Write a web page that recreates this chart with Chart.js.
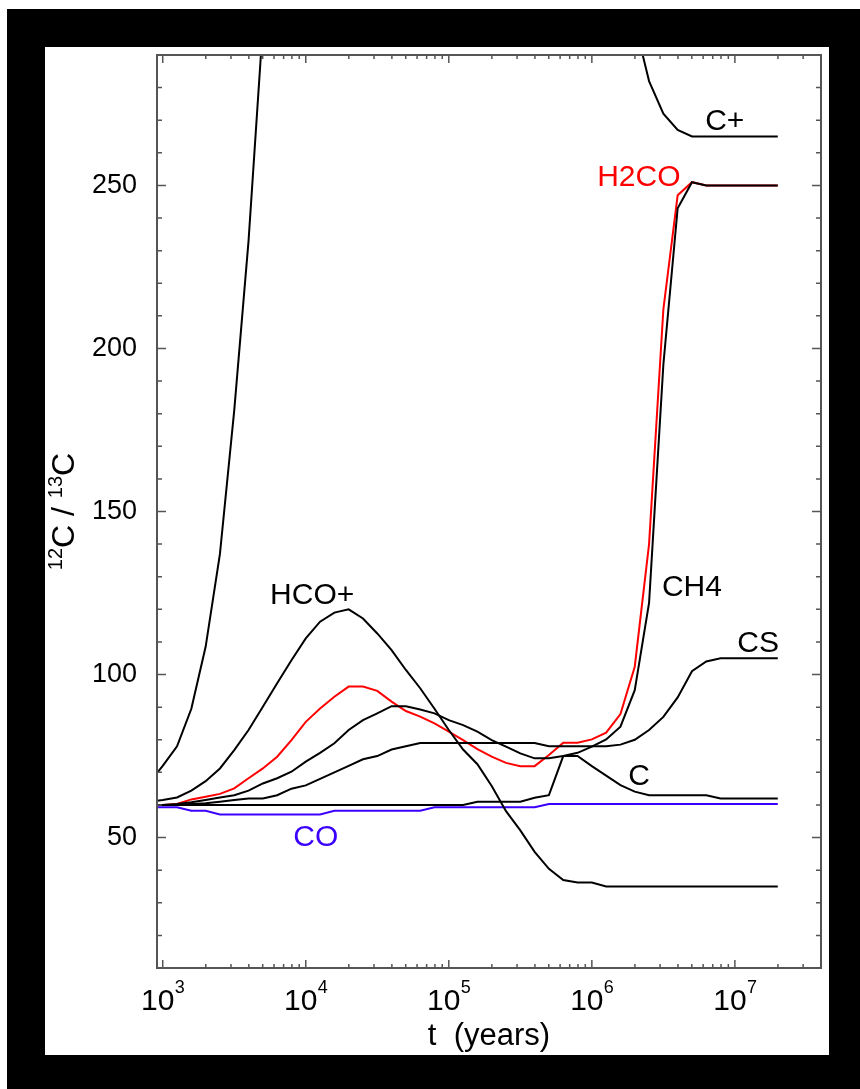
<!DOCTYPE html>
<html>
<head>
<meta charset="utf-8">
<script src="https://cdn.jsdelivr.net/npm/chart.js@4.4.0/dist/chart.umd.min.js"></script>
<style>
  html, body { margin: 0; padding: 0; background: #fff; }
  canvas { display: block; }
</style>
</head>
<body>
<canvas id="ratioChart" width="860" height="1089"></canvas>
<script>
// time grid (years), 0.1 dex steps
const years = [794, 1000, 1259, 1585, 1995, 2512, 3162, 3981, 5012, 6310, 7943,
  1.0e4, 1.259e4, 1.585e4, 1.995e4, 2.512e4, 3.162e4, 3.981e4, 5.012e4, 6.310e4, 7.943e4,
  1.0e5, 1.259e5, 1.585e5, 1.995e5, 2.512e5, 3.162e5, 3.981e5, 5.012e5, 6.310e5, 7.943e5,
  1.0e6, 1.259e6, 1.585e6, 1.995e6, 2.512e6, 3.162e6, 3.981e6, 5.012e6, 6.310e6, 7.943e6,
  1.0e7, 1.259e7, 1.585e7, 1.995e7];

// 12C/13C ratio per species (null = above the plot)
const cPlus = [66.5, 72, 78, 89.5, 108.5, 137, 181, 233, 299,
  null, null, null, null, null, null, null, null, null, null, null, null, null,
  null, null, null, null, null, null, null, null, null, null, null, null,
  300, 282, 272, 267, 265, 265, 265, 265, 265, 265, 265];
const hcoPlus = [61, 61.5, 62.3, 64.4, 67.3, 71.2, 76.8, 83, 90.1, 97.3,
  104.4, 111.1, 116.2, 119, 120, 117.2, 112.6, 107.5, 101.4, 95.8,
  89.5, 83, 77, 72.5, 65.8, 58.1, 52.2, 45.6, 40.4, 37,
  36.2, 36.2, 35, 35, 35, 35, 35, 35, 35, 35, 35, 35, 35, 35, 35];
const ch4 = [60, 60, 60.3, 60.8, 61.5, 62.3, 63, 64.4, 66.6, 68.2,
  70.2, 73.3, 76, 78.9, 83, 86, 88.1, 90.3, 90.3, 89.3,
  88.1, 86, 84.5, 82.5, 79.9, 77.9, 75.8, 74.3, 74.3, 75,
  76, 77.9, 80.1, 84, 95.2, 122, 195, 243, 251, 250, 250, 250, 250, 250, 250];
const cs = [60, 60, 60, 60.3, 60.5, 61, 61.5, 62, 62, 63,
  65, 66, 68, 70, 72, 74, 75, 77, 78, 79,
  79, 79, 79, 79, 79, 79, 79, 79, 78, 78,
  78, 78, 78, 78.5, 80, 83, 87, 93, 101, 104, 105, 105, 105, 105, 105];
const cAtom = [60, 60, 60, 60, 60, 60, 60, 60, 60, 60,
  60, 60, 60, 60, 60, 60, 60, 60, 60, 60,
  60, 60, 60, 61, 61, 61, 61, 62.2, 63, 75,
  75, 71.9, 69, 66.1, 64.1, 63, 63, 63, 63, 63, 62, 62, 62, 62, 62];
const h2co = [60, 60, 60.3, 61.7, 62.5, 63.4, 65.1, 68.2, 71.2, 74.8,
  79.9, 85.5, 89.6, 93.2, 96.3, 96.3, 95, 91.7, 88.8, 87.1,
  85, 82.5, 79.9, 77.1, 74.8, 72.9, 71.9, 71.9, 75.3, 79.1,
  79.1, 80.1, 82.2, 87.9, 102.4, 140, 212, 247, 251, 250, 250, 250, 250, 250, 250];
const co = [59.3, 59.3, 59.3, 58.2, 58.2, 57.1, 57.1, 57.1, 57.1, 57.1,
  57.1, 57.1, 57.1, 58.2, 58.2, 58.2, 58.2, 58.2, 58.2, 58.2,
  59.3, 59.3, 59.3, 59.3, 59.3, 59.3, 59.3, 59.3, 60.3, 60.3,
  60.3, 60.3, 60.3, 60.3, 60.3, 60.3, 60.3, 60.3, 60.3, 60.3, 60.3, 60.3, 60.3, 60.3, 60.3];

// axis ticks: x labels are 10 with a raised exponent
const xTickValues = [1e3, 1e4, 1e5, 1e6, 1e7];
const xTickExponents = ['3', '4', '5', '6', '7'];
const yTickValues = [50, 100, 150, 200, 250];
const yTickLabels = ['50', '100', '150', '200', '250'];

const RED = '#ff0000';
const BLUE = '#3c00ff';
const FONT = '"Liberation Sans", Arial, sans-serif';

// curve names placed next to the lines (data coordinates)
const curveLabels = [
  { text: 'C+', t: 6.2e6, v: 267, color: '#000' },
  { text: 'H2CO', t: 1.09e6, v: 249.8, color: RED },
  { text: 'CH4', t: 3.09e6, v: 124, color: '#000' },
  { text: 'CS', t: 1.04e7, v: 107, color: '#000' },
  { text: 'C', t: 1.8e6, v: 66.1, color: '#000' },
  { text: 'HCO+', t: 5.63e3, v: 121.6, color: '#000' },
  { text: 'CO', t: 8.18e3, v: 47.4, color: BLUE }
];

const toPoints = vals => years.map((t, i) => ({ x: t, y: vals[i] }));

// black frame, white panel, box with inward ticks, exponents, y title and curve names
const frame = {
  id: 'frame',
  beforeDraw(chart) {
    const c = chart.ctx;
    c.save();
    c.fillStyle = '#fff';
    c.fillRect(0, 0, chart.width, chart.height);
    c.fillStyle = '#000';
    c.fillRect(7, 9, chart.width - 7, chart.height - 9);
    c.fillStyle = '#fff';
    c.fillRect(45, 47, 784, 1008);
    c.restore();
  },
  afterDraw(chart) {
    const { ctx: c, chartArea: a, scales: { x, y } } = chart;
    c.save();
    c.strokeStyle = '#555';
    c.lineWidth = 2;
    c.strokeRect(a.left, a.top, a.right - a.left, a.bottom - a.top);
    c.lineWidth = 1.5;
    c.beginPath();
    for (let e = 2; e <= 7; e++) {
      for (let k = 1; k < 10; k++) {
        const v = k * Math.pow(10, e);
        if (v <= x.min || v >= x.max) continue;
        const px = x.getPixelForValue(v);
        const len = k === 1 ? 8 : 4;
        c.moveTo(px, a.bottom); c.lineTo(px, a.bottom - len);
        c.moveTo(px, a.top); c.lineTo(px, a.top + len);
      }
    }
    for (let v = 20; v < 290; v += 10) {
      const py = y.getPixelForValue(v);
      const len = v % 50 === 0 ? 9 : 5;
      c.moveTo(a.left, py); c.lineTo(a.left + len, py);
      c.moveTo(a.right, py); c.lineTo(a.right - len, py);
    }
    c.stroke();

    // exponents of the x tick labels
    c.fillStyle = '#000';
    c.font = '18px ' + FONT;
    c.textAlign = 'left';
    c.textBaseline = 'alphabetic';
    xTickValues.forEach((v, i) => {
      c.fillText(xTickExponents[i], x.getPixelForValue(v) + 12, 993);
    });

    // y axis title: 12C / 13C with superscripts, rotated
    c.save();
    c.translate(63, (a.top + a.bottom) / 2);
    c.rotate(-Math.PI / 2);
    const parts = [['12', true], ['C', false], [' / ', false], ['13', true], ['C', false]];
    const sup = '20px ' + FONT, big = '32px ' + FONT;
    let w = 0;
    parts.forEach(p => { c.font = p[1] ? sup : big; w += c.measureText(p[0]).width; });
    let u = -w / 2;
    parts.forEach(p => {
      c.font = p[1] ? sup : big;
      c.fillText(p[0], u, p[1] ? 11 - 12 : 11);
      u += c.measureText(p[0]).width;
    });
    c.restore();

    c.font = '30px ' + FONT;
    curveLabels.forEach(l => {
      c.fillStyle = l.color;
      c.fillText(l.text, x.getPixelForValue(l.t), y.getPixelForValue(l.v));
    });
    c.restore();
  }
};

const ctx = document.getElementById('ratioChart').getContext('2d');
Chart.defaults.font.family = FONT;

const line = (label, vals, color) => ({
  label, data: toPoints(vals), borderColor: color, backgroundColor: color,
  borderWidth: 2, pointRadius: 0, tension: 0, fill: false
});

new Chart(ctx, {
  type: 'line',
  data: {
    datasets: [
      line('C+', cPlus, '#000'),
      line('HCO+', hcoPlus, '#000'),
      line('CH4', ch4, '#000'),
      line('CS', cs, '#000'),
      line('C', cAtom, '#000'),
      line('H2CO', h2co, RED),
      line('CO', co, BLUE)
    ]
  },
  options: {
    responsive: false,
    animation: false,
    events: [],
    layout: { padding: { top: 55, right: 39, left: 0, bottom: 0 } },
    plugins: { legend: { display: false }, tooltip: { enabled: false } },
    scales: {
      x: {
        type: 'logarithmic',
        min: 912,
        max: 4.0e7,
        afterBuildTicks: s => { s.ticks = xTickValues.map(v => ({ value: v })); },
        afterFit: s => { s.height = 121; },
        grid: { display: false, drawTicks: false },
        border: { display: false },
        ticks: {
          autoSkip: false, maxRotation: 0, padding: 16, labelOffset: -5,
          color: '#000', font: { size: 30 },
          callback: () => '10'
        },
        title: {
          display: true, text: 't  (years)', color: '#000',
          font: { size: 31 }, padding: { top: 0, bottom: 34 }
        }
      },
      y: {
        type: 'linear',
        min: 10,
        max: 290,
        afterBuildTicks: s => { s.ticks = yTickValues.map(v => ({ value: v })); },
        afterFit: s => { s.width = 157; },
        grid: { display: false, drawTicks: false },
        border: { display: false },
        ticks: {
          padding: 20, color: '#000', font: { size: 27 },
          callback: v => yTickLabels[yTickValues.indexOf(v)]
        },
        title: { display: false }
      }
    }
  },
  plugins: [frame]
});
</script>
</body>
</html>
